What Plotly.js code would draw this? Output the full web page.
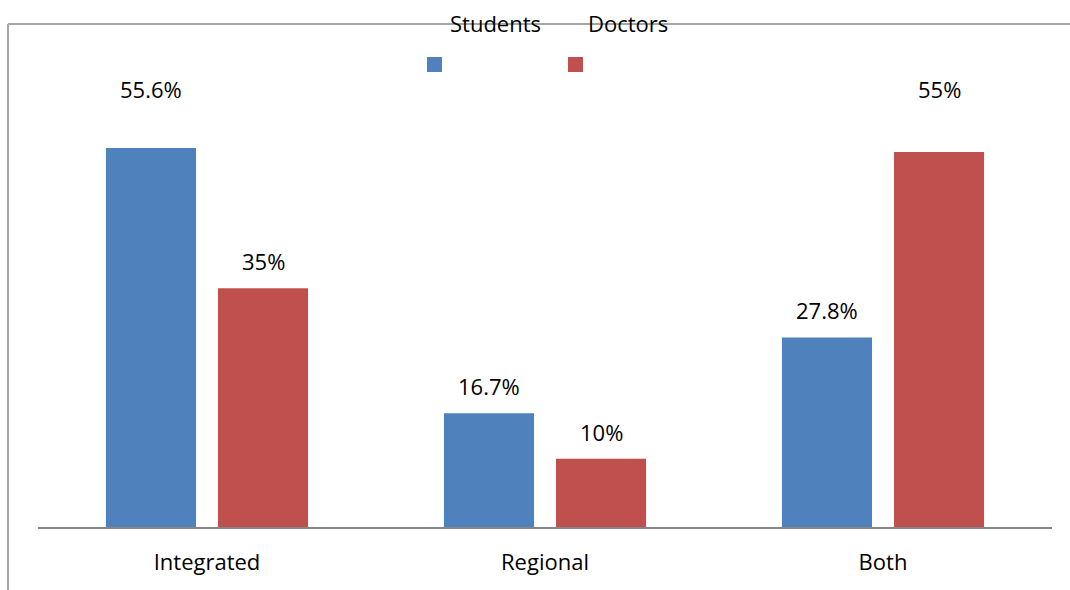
<!DOCTYPE html>
<html>
<head>
<meta charset="utf-8">
<script src="https://cdn.plot.ly/plotly-3.0.1.min.js"></script>
<style>
  html, body { margin: 0; padding: 0; background: #ffffff; }
  #chart { width: 1070px; height: 590px; }
</style>
</head>
<body>
<div id="chart"></div>
<script>
// Preferred integration approach, by group
const categories = ["Integrated", "Regional", "Both"];
const studentsValues = [55.6, 16.7, 27.8];
const doctorsValues = [35, 10, 55];
const seriesNames = ["Students", "Doctors"];

const BLUE = "#4F81BD";
const RED = "#C0504D";
const FONT = "Open Sans, sans-serif";
const FS = 22;

const traces = [
  { type: "bar", name: seriesNames[0], x: categories, y: studentsValues,
    marker: { color: BLUE }, hoverinfo: "skip" },
  { type: "bar", name: seriesNames[1], x: categories, y: doctorsValues,
    marker: { color: RED }, hoverinfo: "skip" }
];

// Plot area geometry in pixels (used to place the free-standing frame and legend)
const W = 1070, H = 590, L = 38, R = 18, T = 50, B = 63;
const pw = W - L - R, ph = H - T - B;
const px = v => (v - L) / pw;          // pixel x -> paper x
const py = v => (H - B - v) / ph;      // pixel y -> paper y

// Value labels: sit just above each bar; labels of the tallest bars share a row near the top
const annotations = [];
const offsets = [-56, 56];
[studentsValues, doctorsValues].forEach((vals, s) => {
  vals.forEach((v, i) => {
    const tall = v > 50;
    annotations.push({
      x: categories[i], xref: "x", xshift: offsets[s],
      y: tall ? py(89) : v, yref: tall ? "paper" : "y",
      yanchor: "middle", yshift: tall ? 0 : 27,
      text: String(v) + "%", showarrow: false,
      font: { family: FONT, size: FS, color: "#000000" }
    });
  });
});

// Legend: names above small colour squares
const legendX = [495, 628];
seriesNames.forEach((n, s) => {
  annotations.push({
    x: px(legendX[s]), xref: "paper", y: py(23), yref: "paper",
    xanchor: "center", yanchor: "middle", text: n, showarrow: false,
    font: { family: FONT, size: FS, color: "#000000" }
  });
});

const shapes = [
  // outer frame (left and top edges)
  { type: "line", xref: "paper", yref: "paper", x0: px(8), x1: px(8), y0: py(24), y1: py(600),
    line: { color: "#A6A6A6", width: 2 } },
  { type: "line", xref: "paper", yref: "paper", x0: px(8), x1: px(1080), y0: py(24), y1: py(24),
    line: { color: "#A6A6A6", width: 2 } },
  // legend keys
  { type: "rect", xref: "paper", yref: "paper", x0: px(427), x1: px(442), y0: py(72), y1: py(57),
    line: { width: 0 }, fillcolor: BLUE },
  { type: "rect", xref: "paper", yref: "paper", x0: px(568), x1: px(583), y0: py(72), y1: py(57),
    line: { width: 0 }, fillcolor: RED }
];

const layout = {
  width: W, height: H,
  margin: { l: L, r: R, t: T, b: B, pad: 0 },
  paper_bgcolor: "#ffffff", plot_bgcolor: "#ffffff",
  showlegend: false,
  barmode: "group", bargap: 0.337, bargroupgap: 0.196,
  xaxis: {
    type: "category", showline: true, linecolor: "#868686", linewidth: 2,
    showgrid: false, zeroline: false, ticks: "",
    ticklabelstandoff: 15,
    tickfont: { family: FONT, size: FS, color: "#000000" },
    fixedrange: true
  },
  yaxis: {
    range: [0, ph / 6.818], visible: false, showgrid: false, zeroline: false,
    fixedrange: true
  },
  annotations: annotations,
  shapes: shapes
};

Plotly.newPlot("chart", traces, layout, { displayModeBar: false, staticPlot: true });
</script>
</body>
</html>
